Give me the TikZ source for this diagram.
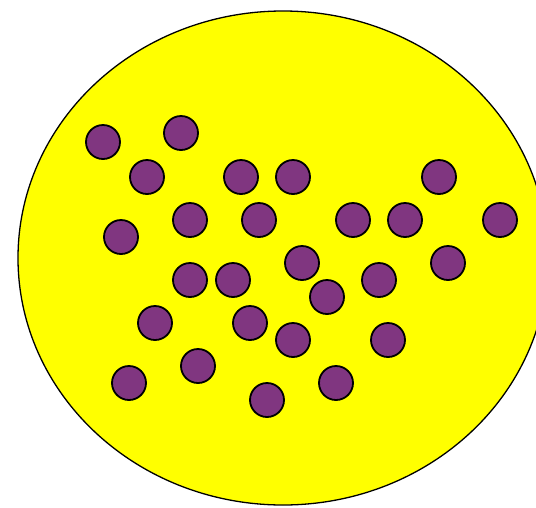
\documentclass[tikz,border=0pt]{standalone}
\definecolor{dotpurple}{RGB}{128,54,128}
\definecolor{bgyellow}{RGB}{255,255,0}
\tikzset{
  dot/.style={circle, draw=black, line width=1.8pt, fill=dotpurple, minimum size=34pt, inner sep=0pt},
  blob/.style={draw=black, line width=1.3pt, fill=bgyellow}
}
\begin{document}
\begin{tikzpicture}[x=1pt,y=-1pt]
\useasboundingbox (0,0) rectangle (536,507);
\clip (0,0) rectangle (536,507);
\fill[white] (0,0) rectangle (536,507);
\draw[blob] (283,258) ellipse [x radius=265, y radius=247];
\foreach \n/\x/\y in {
 a/103/142, b/181/133, c/147/177, d/241/177, e/293/177, f/439/177,
 g/121/237, h/190/220, i/259/220, j/353/220, k/405/220, l/500/220,
 m/302/263, n/448/263, o/190/280, p/233/280, q/327/297, r/379/280,
 s/155/323, t/250/323, u/293/340, v/388/340, w/129/383, x/198/366,
 y/267/400, z/336/383}
  \node[dot] (\n) at (\x,\y) {};
\end{tikzpicture}
\end{document}
